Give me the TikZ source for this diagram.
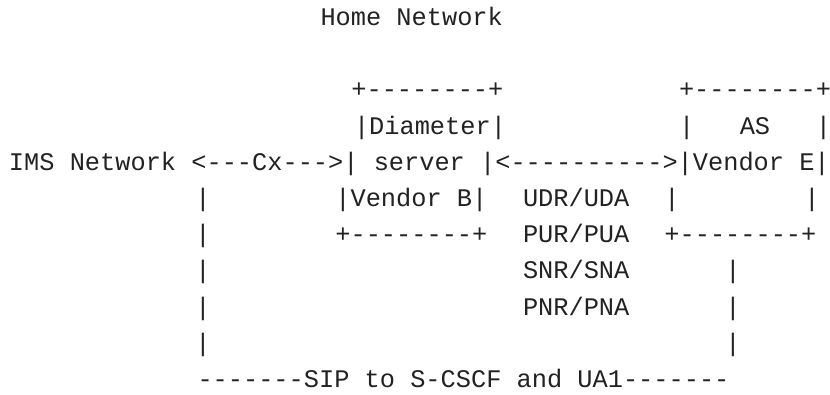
\documentclass[tikz,border=0pt]{standalone}
\usepackage{fontspec}
\setmonofont{Liberation Mono}
\definecolor{ink}{HTML}{222222}
\tikzset{
  txt/.style={anchor=base west, inner sep=0pt, outer sep=0pt, text=ink,
    font=\ttfamily\fontsize{25.33pt}{30pt}\selectfont}
}
\begin{document}
\begin{tikzpicture}[x=1pt,y=-1pt]
\useasboundingbox[fill=white] (0,0) rectangle (830,395);
% row 0
\node[txt] (home) at (320.5,25.5) {Home Network};
% row 2
\node[txt] (dtop) at (351.4,97.9) {+--------+};
\node[txt] (atop) at (679,97.9) {+--------+};
% row 3
\node[txt] (dname) at (354,134.1) {|Diameter|};
\node[txt] (aname) at (679,134.1) {|\ \ \ AS\ \ \ |};
% row 4
\node[txt] (ims) at (9,170.3) {IMS\ Network\ <---Cx--->|\ server\ |<---------->|Vendor\ E|};
% row 5
\node[txt] (l5) at (195.4,206.5) {|};
\node[txt] (dvend) at (335.4,206.5) {|Vendor\ B|};
\node[txt] (udr) at (523,206.5) {UDR/UDA};
\node[txt] (a5l) at (664.4,206.5) {|};
\node[txt] (a5r) at (804.4,206.5) {|};
% row 6
\node[txt] (l6) at (195.4,242.7) {|};
\node[txt] (dbot) at (335.4,242.7) {+--------+};
\node[txt] (pur) at (523,242.7) {PUR/PUA};
\node[txt] (abot) at (664.4,242.7) {+--------+};
% row 7
\node[txt] (l7) at (195.4,278.9) {|};
\node[txt] (snr) at (523,278.9) {SNR/SNA};
\node[txt] (r7) at (725.4,278.9) {|};
% row 8
\node[txt] (l8) at (195.4,315.1) {|};
\node[txt] (pnr) at (523,315.1) {PNR/PNA};
\node[txt] (r8) at (725.4,315.1) {|};
% row 9
\node[txt] (l9) at (195.4,351.3) {|};
\node[txt] (r9) at (725.4,351.3) {|};
% row 10
\node[txt] (sip) at (197.5,387.5) {-------SIP\ to\ S-CSCF\ and\ UA1-------};
\end{tikzpicture}
\end{document}
